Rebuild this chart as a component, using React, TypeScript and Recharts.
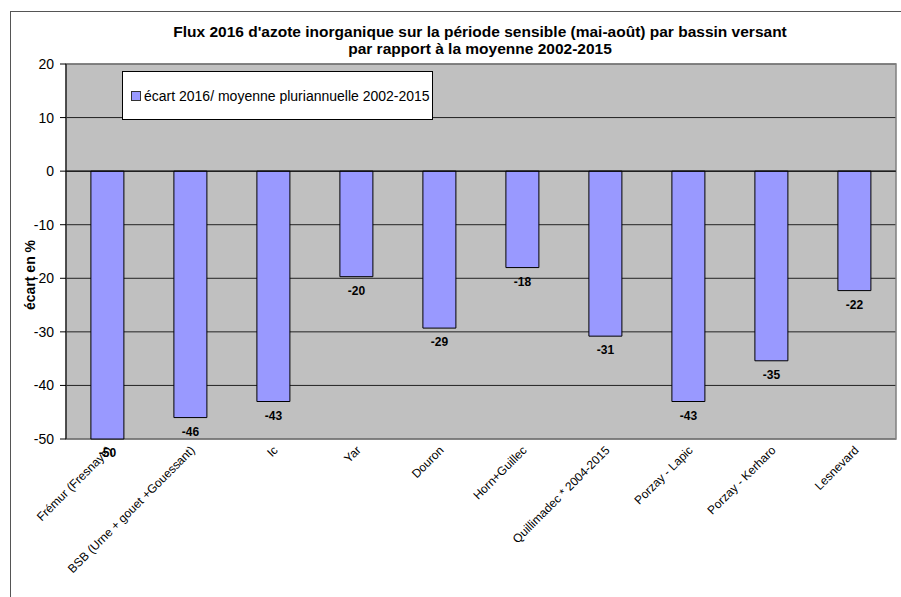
import {
  BarChart,
  Bar,
  XAxis,
  YAxis,
  CartesianGrid,
  ReferenceArea,
  ReferenceLine,
  LabelList,
} from "recharts";

const FONT = "Arial, 'Liberation Sans', sans-serif";

const bassins = [
  "Frémur (Fresnaye)",
  "BSB (Urne + gouet +Gouessant)",
  "Ic",
  "Yar",
  "Douron",
  "Horn+Guillec",
  "Quillimadec * 2004-2015",
  "Porzay - Lapic",
  "Porzay - Kerharo",
  "Lesnevard",
];
const ecart2016 = [-50, -46, -43, -19.7, -29.3, -18, -30.8, -43, -35.4, -22.3];
const yTicks = [20, 10, 0, -10, -20, -30, -40, -50];

const data = bassins.map((name, i) => ({ name, ecart: ecart2016[i] }));

function CategoryTick(props: any) {
  const { x, payload } = props;
  const tx = x + 5;
  const ty = 451;
  return (
    <text
      x={tx}
      y={ty}
      transform={`rotate(-45, ${tx}, ${ty})`}
      textAnchor="end"
      fontSize={12}
      fontFamily={FONT}
      fill="#000"
    >
      {payload.value}
    </text>
  );
}

function ValueLabel(props: any) {
  const { x, y, width, height, value } = props;
  const bottom = Math.max(y, y + height);
  return (
    <text
      x={x + width / 2}
      y={bottom + 15}
      textAnchor="middle"
      dominantBaseline="middle"
      fontSize={12}
      fontWeight="bold"
      fontFamily={FONT}
      fill="#000"
    >
      {Math.round(value)}
    </text>
  );
}

export default function App() {
  return (
    <div
      style={{
        position: "absolute",
        left: 0,
        top: 0,
        width: 901,
        height: 597,
        background: "#fff",
        fontFamily: FONT,
        overflow: "hidden",
      }}
    >
      <div
        style={{
          position: "absolute",
          left: 10,
          top: 11,
          width: 900,
          height: 600,
          borderLeft: "1px solid #555",
          borderTop: "1px solid #555",
        }}
      />
      <div
        style={{
          position: "absolute",
          left: 80,
          width: 800,
          top: 23,
          textAlign: "center",
          fontSize: 15.5,
          fontWeight: "bold",
          lineHeight: "17px",
          color: "#000",
        }}
      >
        Flux 2016 d'azote inorganique sur la période sensible (mai-août) par bassin versant
        <br />
        par rapport à la moyenne 2002-2015
      </div>
      <BarChart
        width={901}
        height={597}
        data={data}
        margin={{ top: 64, right: 5, bottom: 0, left: 6 }}
        barCategoryGap="30%"
        style={{ position: "absolute", left: 0, top: 0 }}
      >
        <CartesianGrid
          vertical={false}
          stroke="#222"
          fill="#C0C0C0"
          fillOpacity={1}
        />
        <ReferenceArea
          y1={-50}
          y2={20}
          fill="none"
          stroke="#808080"
          strokeWidth={1.5}
          ifOverflow="visible"
        />
        <XAxis
          dataKey="name"
          height={158}
          axisLine={false}
          tickLine={false}
          interval={0}
          tick={<CategoryTick />}
        />
        <YAxis
          width={60}
          domain={[-50, 20]}
          ticks={yTicks}
          interval={0}
          axisLine={{ stroke: "#000" }}
          tickLine={{ stroke: "#000" }}
          tickSize={6}
          tickMargin={6}
          tick={{ fontSize: 14, fill: "#000", fontFamily: FONT }}
          label={() => (
            <text
              x={31}
              y={275}
              transform="rotate(-90, 31, 275)"
              textAnchor="middle"
              dominantBaseline="middle"
              fontSize={14}
              fontWeight="bold"
              fontFamily={FONT}
              fill="#000"
            >
              écart en %
            </text>
          )}
        />
        <ReferenceLine y={0} stroke="#000" />
        <Bar
          dataKey="ecart"
          fill="#9999FF"
          stroke="#000"
          strokeWidth={1}
          isAnimationActive={false}
        >
          <LabelList dataKey="ecart" content={<ValueLabel />} />
        </Bar>
      </BarChart>
      <div
        style={{
          position: "absolute",
          left: 122,
          top: 71,
          width: 311,
          height: 49,
          background: "#fff",
          border: "1px solid #000",
          display: "flex",
          alignItems: "center",
          paddingLeft: 8,
          boxSizing: "border-box",
          fontSize: 14,
          color: "#000",
        }}
      >
        <div
          style={{
            width: 8,
            height: 8,
            background: "#9999FF",
            border: "1px solid #333",
            marginRight: 3,
          }}
        />
        <span>écart 2016/ moyenne pluriannuelle 2002-2015</span>
      </div>
    </div>
  );
}
